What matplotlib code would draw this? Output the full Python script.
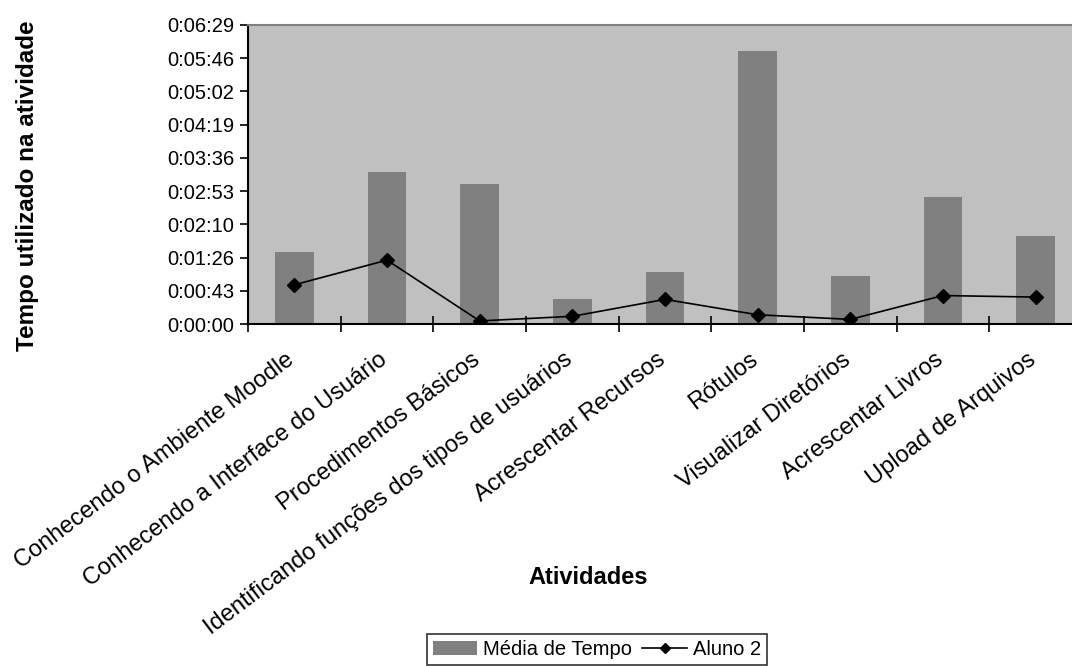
import matplotlib
matplotlib.use("Agg")
import matplotlib.pyplot as plt
from matplotlib.patches import Patch
from matplotlib.lines import Line2D
from matplotlib.transforms import ScaledTranslation

plt.rcParams['font.family'] = ['Liberation Sans', 'DejaVu Sans']

categories = [
    "Conhecendo o Ambiente Moodle",
    "Conhecendo a Interface do Usuário",
    "Procedimentos Básicos",
    "Identificando funções dos tipos de usuários",
    "Acrescentar Recursos",
    "Rótulos",
    "Visualizar Diretórios",
    "Acrescentar Livros",
    "Upload de Arquivos",
]
# values in seconds
media_tempo = [94, 198, 182, 32, 68, 355, 63, 165, 115]
aluno2 = [51, 83, 4, 10, 32, 12, 6, 37, 35]

ytick_values = [0, 43.2, 86.4, 129.6, 172.8, 216.0, 259.2, 302.4, 345.6, 388.8]
ytick_labels = ["0:00:00", "0:00:43", "0:01:26", "0:02:10", "0:02:53",
                "0:03:36", "0:04:19", "0:05:02", "0:05:46", "0:06:29"]

W, H = 1072, 666
fig = plt.figure(figsize=(W / 100, H / 100), dpi=100)
ax = fig.add_axes([248 / W, 1 - 324 / H, (1082 - 248) / W, (324 - 25) / H])
ax.set_facecolor('#C0C0C0')

x = list(range(len(categories)))
ax.bar(x, media_tempo, width=0.42, color='#808080', zorder=2)
ax.plot(x, aluno2, color='black', lw=1.2, marker='D', markersize=7,
        markerfacecolor='black', markeredgecolor='black', zorder=3)

ax.set_xlim(-0.5, len(categories) - 0.5)
ax.set_ylim(0, 388.8)
ax.set_yticks(ytick_values)
ax.set_yticklabels(ytick_labels, fontsize=14.5)
ax.tick_params(axis='y', direction='out', length=6, width=1.2, color='black', pad=4)

ax.set_xticks(x)
ax.set_xticklabels(categories, rotation=37, ha='right', va='top',
                   rotation_mode='anchor', fontsize=17)
ax.tick_params(axis='x', which='major', length=0, pad=12)
shift = ScaledTranslation(-9 / 100, -8 / 100, fig.dpi_scale_trans)
for lbl in ax.get_xticklabels():
    lbl.set_transform(lbl.get_transform() + shift)
ax.set_xticks([i - 0.5 for i in range(len(categories) + 1)], minor=True)
ax.tick_params(axis='x', which='minor', direction='inout', length=12, width=1.2, color='black')

for s in ['left', 'bottom']:
    ax.spines[s].set_color('black')
    ax.spines[s].set_linewidth(1.5)
ax.spines['top'].set_color('#808080')
ax.spines['top'].set_linewidth(1.5)
ax.spines['right'].set_visible(False)

fig.text(28 / W, 1 - 186 / H, "Tempo utilizado na atividade", rotation=90,
         ha='center', va='center', fontsize=17.5, fontweight='bold')
fig.text(588 / W, 1 - 577 / H, "Atividades", ha='center', va='center',
         fontsize=17, fontweight='bold')

handles = [Patch(facecolor='#808080', edgecolor='none'),
           Line2D([0], [0], color='black', lw=1.2, marker='D', markersize=5)]
leg = fig.legend(handles, ["Média de Tempo", "Aluno 2"], loc='upper left',
                 bbox_to_anchor=(427 / W, 1 - 634 / H), ncol=2, fontsize=14.5,
                 frameon=True, fancybox=False, borderpad=0.3, handlelength=2.2,
                 handletextpad=0.3, columnspacing=0.5, borderaxespad=0)
leg.get_frame().set_edgecolor('black')
leg.get_frame().set_linewidth(1.2)

fig.savefig("out.png", dpi=100)
